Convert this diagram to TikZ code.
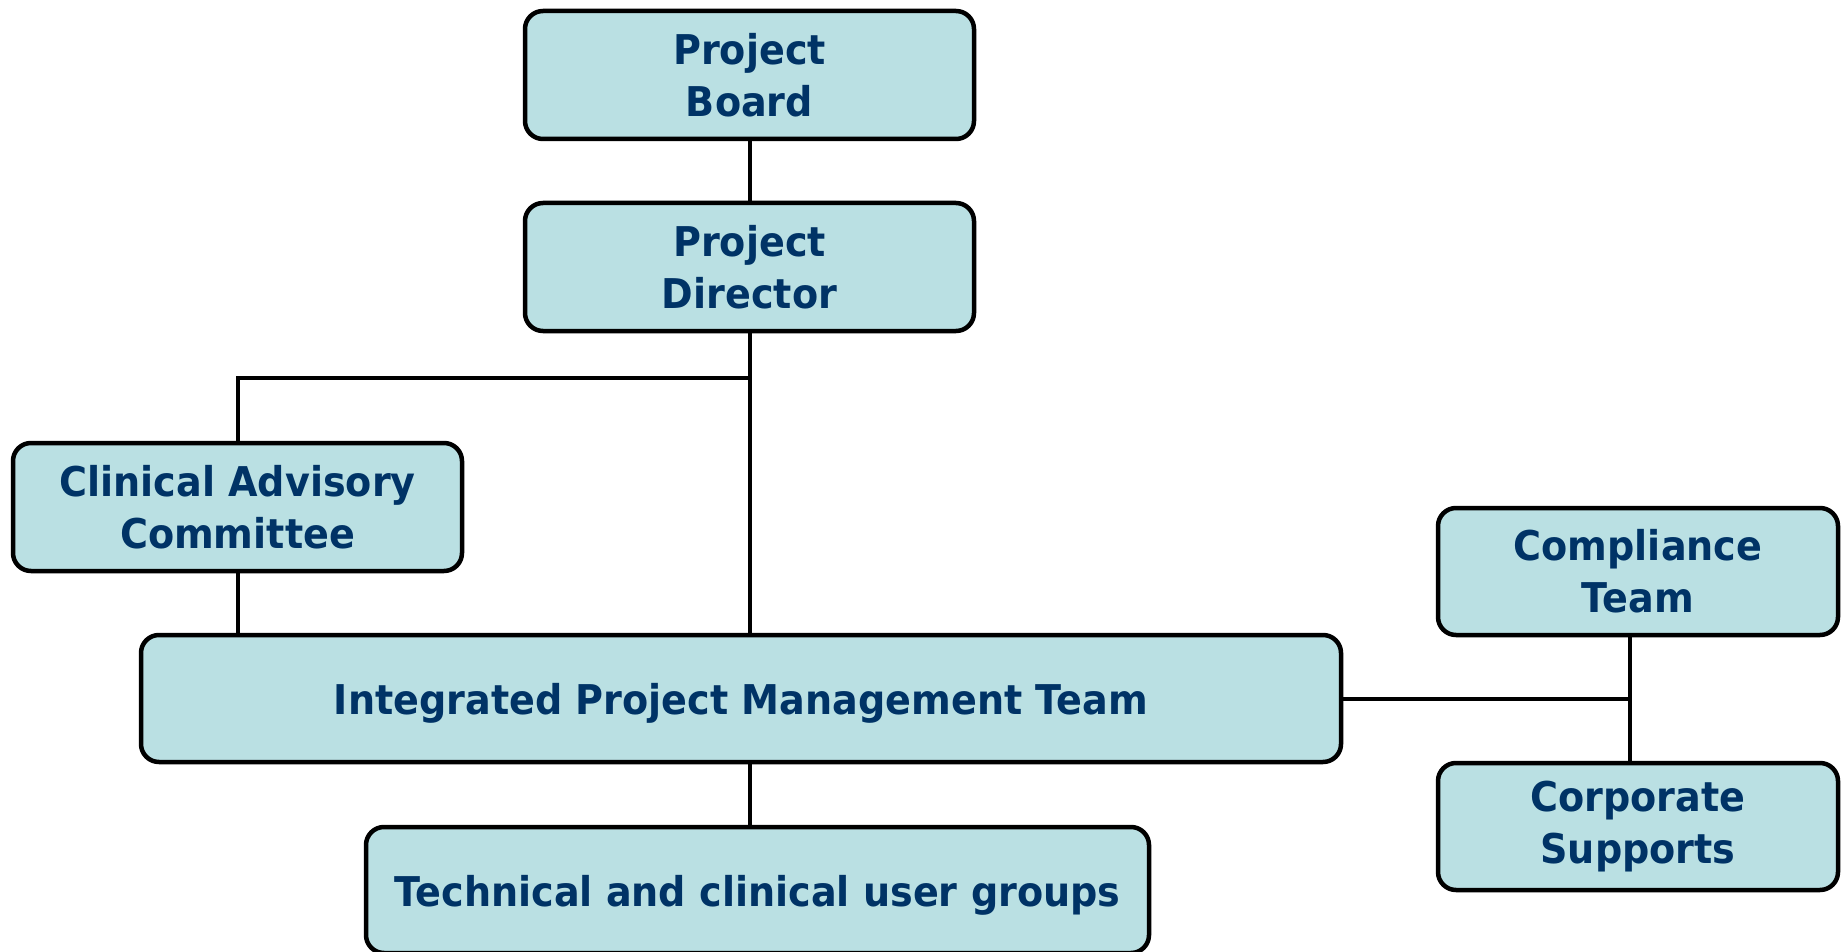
\documentclass[tikz,border=0pt]{standalone}
\usepackage{fontspec}
\setmainfont{DejaVu Sans}[FakeStretch=0.93]
\definecolor{boxfill}{RGB}{186,224,227}
\definecolor{navy}{RGB}{0,51,102}
\newcommand{\lowline}[1]{\raisebox{-16pt}[0pt][0pt]{#1}}
\begin{document}
\begin{tikzpicture}[x=1pt,y=-1pt,
  box/.style={draw=black, line width=4.5pt, rounded corners=18pt, fill=boxfill,
    text=navy, align=center, inner sep=0pt,
    font=\fontsize{41}{52}\selectfont\bfseries},
  link/.style={draw=black, line width=4pt}]
\useasboundingbox (0,0) rectangle (1847,952);
\node[box, minimum width=449pt, minimum height=128pt] (pb) at (749.5,75) {Project\\Board};
\node[box, minimum width=449pt, minimum height=128pt] (pd) at (749.5,267) {Project\\Director};
\node[box, minimum width=449pt, minimum height=128pt] (cac) at (237.5,507) {Clinical Advisory\\Committee};
\node[box, minimum width=1200pt, minimum height=127pt] (ipmt) at (741,698.5) {\lowline{Integrated Project Management Team}};
\node[box, minimum width=400pt, minimum height=127pt] (comp) at (1638,571.5) {Compliance\\Team};
\node[box, minimum width=400pt, minimum height=127pt] (corp) at (1638,826.5) {Corporate\\Supports};
\node[box, minimum width=783pt, minimum height=126pt] (tech) at (757.5,890) {\lowline{Technical and clinical user groups}};
\coordinate (lj) at (749.5,378);
\coordinate (rj) at (1630,698.5);
\draw[link] (pb) -- (pd);
\draw[link] (pd.south) -- (pd.south |- ipmt.north);
\draw[link] (lj) -| (cac.north);
\draw[link] (cac.south) -- (cac.south |- ipmt.north);
\draw[link] (ipmt.south -| lj) -- (tech.north -| lj);
\draw[link] (ipmt.east) -- (rj);
\draw[link] (comp.south -| rj) -- (corp.north -| rj);
\end{tikzpicture}
\end{document}
